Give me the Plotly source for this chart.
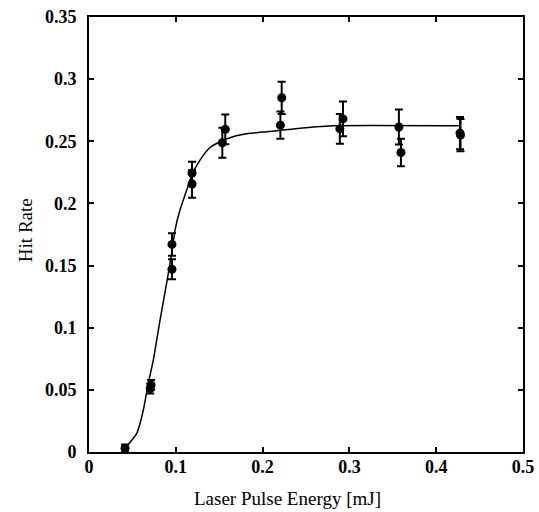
import plotly.graph_objects as go

# measured points
energy = [0.0415, 0.0705, 0.0715, 0.0956, 0.0956, 0.1187, 0.1187, 0.1536, 0.157,
          0.2205, 0.222, 0.289, 0.2926, 0.357, 0.3594, 0.4274, 0.428]
hit_rate = [0.003, 0.051, 0.054, 0.167, 0.147, 0.2245, 0.2156, 0.2488, 0.2596,
            0.263, 0.285, 0.260, 0.268, 0.2615, 0.241, 0.2566, 0.255]
hit_err = [0.003, 0.004, 0.004, 0.009, 0.008, 0.009, 0.011, 0.012, 0.012,
           0.011, 0.013, 0.012, 0.014, 0.014, 0.011, 0.013, 0.013]

# fitted curve
fit_x = [0.0415, 0.055, 0.0626, 0.0683, 0.0741, 0.0818, 0.0895, 0.0953, 0.0991,
         0.1048, 0.1126, 0.1183, 0.1279, 0.1394, 0.1509, 0.1659, 0.1855, 0.2047,
         0.2235, 0.2431, 0.2623, 0.2811, 0.4274]
fit_y = [0.003, 0.015, 0.0338, 0.0553, 0.074, 0.106, 0.136, 0.160, 0.1786,
         0.1947, 0.2108, 0.2228, 0.2349, 0.245, 0.2496, 0.2537, 0.2564, 0.2577,
         0.259, 0.2604, 0.2617, 0.2625, 0.2625]

x_ticks = [0, 0.1, 0.2, 0.3, 0.4, 0.5]
y_ticks = [0, 0.05, 0.1, 0.15, 0.2, 0.25, 0.3, 0.35]
x_title = "Laser Pulse Energy [mJ]"
y_title = "Hit Rate"

fig = go.Figure()
fig.add_trace(go.Scatter(x=fit_x, y=fit_y, mode="lines",
                         line=dict(color="black", width=1.5, shape="spline", smoothing=0.5),
                         showlegend=False))
fig.add_trace(go.Scatter(x=energy, y=hit_rate, mode="markers",
                         marker=dict(color="black", size=9),
                         error_y=dict(type="data", array=hit_err, color="black",
                                      thickness=2, width=4),
                         showlegend=False))

tickfont = dict(family="Liberation Serif", size=18, color="black", weight="bold")
titlefont = dict(family="Liberation Serif", size=19, color="black")

fig.update_layout(
    width=539, height=512,
    margin=dict(l=89, r=16, t=17, b=60),
    paper_bgcolor="white", plot_bgcolor="white",
    font=dict(family="Liberation Serif", color="black"),
    annotations=[
        dict(text=x_title, xref="paper", yref="paper", x=0.4585, y=-0.106,
             xanchor="center", yanchor="middle", showarrow=False, font=titlefont),
        dict(text=y_title, xref="paper", yref="paper", x=-0.1475, y=0.51,
             xanchor="center", yanchor="middle", textangle=-90, showarrow=False,
             font=titlefont),
    ],
)
fig.update_xaxes(range=[0, 0.5], tickvals=x_ticks, ticktext=[str(t) for t in x_ticks],
                 ticks="inside", ticklen=5, tickwidth=1.5, tickcolor="black",
                 showline=True, linecolor="black", linewidth=2, mirror="ticks",
                 showgrid=False, zeroline=False, tickfont=tickfont, automargin=False,
                 ticklabelstandoff=-3)
fig.update_yaxes(range=[0, 0.35], tickvals=y_ticks, ticktext=[str(t) for t in y_ticks],
                 ticks="inside", ticklen=5, tickwidth=1.5, tickcolor="black",
                 showline=True, linecolor="black", linewidth=2, mirror="ticks",
                 showgrid=False, zeroline=False, tickfont=tickfont, automargin=False,
                 ticklabelstandoff=7)

fig.write_html("out.html")
